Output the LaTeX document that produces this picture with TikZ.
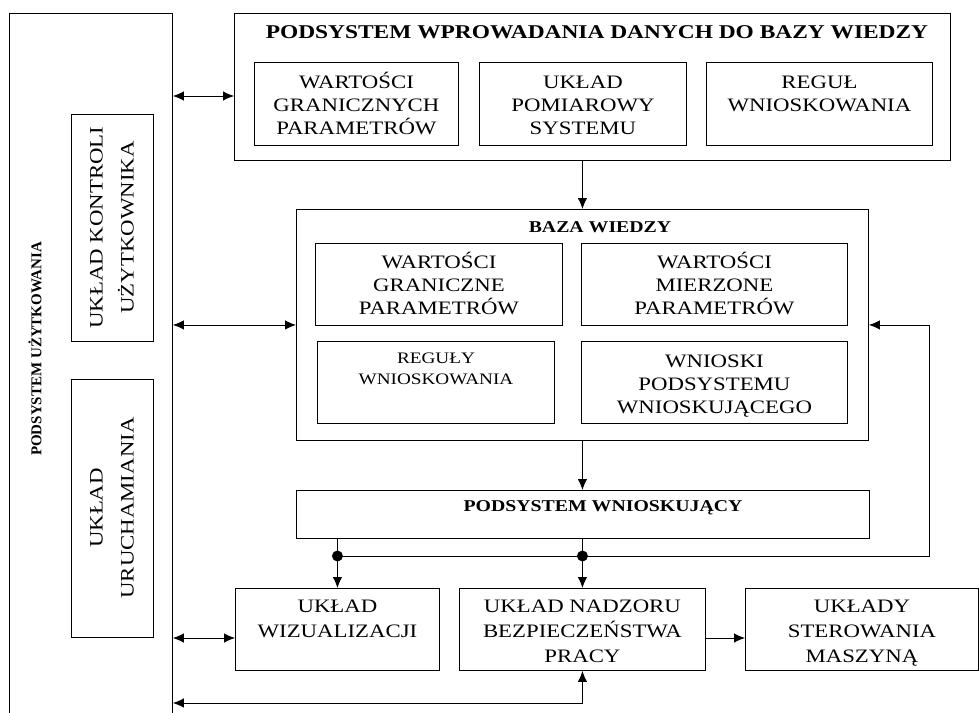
\documentclass[tikz,border=0pt]{standalone}
\usepackage{fontspec}
\setmainfont{Liberation Serif}[FakeStretch=1.2]
\newfontfamily\waski{Liberation Serif}
\usetikzlibrary{arrows.meta}

\tikzset{
	ramka/.style={draw,line width=0.9pt,inner sep=0pt,anchor=north west},
	blok/.style={ramka,align=center,font=\fontsize{19}{23}\selectfont},
	% wysokosc do ostatniej linii tekstu, reszta pod spodem
	wiersze/.style 2 args={text height=#1pt,text depth=#2pt},
	dol/.style={font=\fontsize{19}{25}\selectfont},
	pion/.style={draw,line width=0.9pt,inner sep=0pt,rotate=90,align=center,font=\fontsize{19}{31}\selectfont},
	tytul/.style={inner sep=0pt,font=\bfseries\fontsize{16.5}{20}\selectfont},
	linia/.style={line width=0.9pt},
	strz/.style={linia,-{Latex[length=11pt,width=9.5pt]}},
	dwustrz/.style={linia,{Latex[length=11pt,width=9.5pt]}-{Latex[length=11pt,width=9.5pt]}}
}

\begin{document}
\begin{tikzpicture}[x=1pt,y=-1pt]
		\useasboundingbox (0,0) rectangle (979,712);
		
		\node[ramka,minimum width=163,minimum height=712] (uzyt) at (9,13) {};
		\node[rotate=90,inner sep=0pt,font=\waski\bfseries\fontsize{15}{18}\selectfont] (uzytnap) at (35,349) {PODSYSTEM UŻYTKOWANIA};
		\node[pion,minimum width=227,minimum height=82] (kontr) at (112,227.5) {UKŁAD KONTROLI\\UŻYTKOWNIKA};
		\node[pion,minimum width=258,minimum height=82] (uruch) at (112,508) {UKŁAD\\URUCHAMIANIA};
		
		\node[ramka,minimum width=716,minimum height=147] (wprow) at (234,13) {};
		\node[inner sep=0pt,font=\bfseries\fontsize{19.5}{23}\selectfont] (wprownap) at (597,32) {PODSYSTEM WPROWADANIA DANYCH DO BAZY WIEDZY};
		\node[blok,wiersze={72.3}{10.7},minimum width=204] (wartg) at (254,62) {WARTOŚCI\\GRANICZNYCH\\PARAMETRÓW};
		\node[blok,wiersze={72.3}{10.7},minimum width=207] (pomiar) at (479,62) {UKŁAD\\POMIAROWY\\SYSTEMU};
		\node[blok,wiersze={49.3}{33.7},minimum width=226] (regul) at (706,62) {REGUŁ\\WNIOSKOWANIA};
		
		\node[ramka,minimum width=572,minimum height=231] (baza) at (296,209) {};
		\node[tytul] (bazanap) at (600,227) {BAZA WIEDZY};
		\node[blok,wiersze={71.3}{10.7},minimum width=247] (wgran) at (315,243) {WARTOŚCI\\GRANICZNE\\PARAMETRÓW};
		\node[blok,wiersze={71.3}{10.7},minimum width=266] (wmierz) at (581,243) {WARTOŚCI\\MIERZONE\\PARAMETRÓW};
		\node[blok,wiersze={43.3}{38.7},minimum width=237,font=\fontsize{16}{21}\selectfont] (reguly) at (317,341) {REGUŁY\\WNIOSKOWANIA};
		\node[blok,wiersze={72.3}{9.7},minimum width=266] (wnioski) at (581,341) {WNIOSKI\\PODSYSTEMU\\WNIOSKUJĄCEGO};
		
		\node[ramka,minimum width=573,minimum height=48] (wnio) at (296,490) {};
		\node[tytul] (wnionap) at (603,508) {PODSYSTEM WNIOSKUJĄCY};
		
		\node[blok,dol,wiersze={49.3}{32.7},minimum width=204] (wiz) at (235,588) {UKŁAD\\WIZUALIZACJI};
		\node[blok,dol,wiersze={74.3}{7.7},minimum width=246] (nadz) at (459,588) {UKŁAD NADZORU\\BEZPIECZEŃSTWA\\PRACY};
		\node[blok,dol,wiersze={74.3}{7.7},minimum width=233] (ster) at (745,588) {UKŁADY\\STEROWANIA\\MASZYNĄ};
		
		\coordinate (k1) at (wiz.north |- 0,556);
		\coordinate (k2) at (nadz.north |- 0,556);
		
		\draw[dwustrz] (uzyt.east |- 0,96) -- (wprow.west |- 0,96);
		\draw[dwustrz] (uzyt.east |- baza.west) -- (baza.west);
		\draw[dwustrz] (uzyt.east |- 0,638) -- (wiz.west |- 0,638);
		\draw[dwustrz] (uzyt.east |- 0,703) -| (nadz.south);
		
		\draw[strz] (wprow.south -| baza.north) -- (baza.north);
		\draw[strz] (baza.south) -- (baza.south |- wnio.north);
		\draw[linia] (wnio.south -| k1) -- (k1);
		\draw[linia] (wnio.south -| k2) -- (k2);
		\draw[strz] (k1) -- (wiz.north);
		\draw[strz] (k2) -- (nadz.north);
		\draw[strz] (k1) -| (929,0 |- baza.east) -- (baza.east);
		\draw[strz] (nadz.east |- 0,638) -- (ster.west |- 0,638);
		\fill (k1) circle (5.5pt);
		\fill (k2) circle (5.5pt);
	\end{tikzpicture}
\end{document}
